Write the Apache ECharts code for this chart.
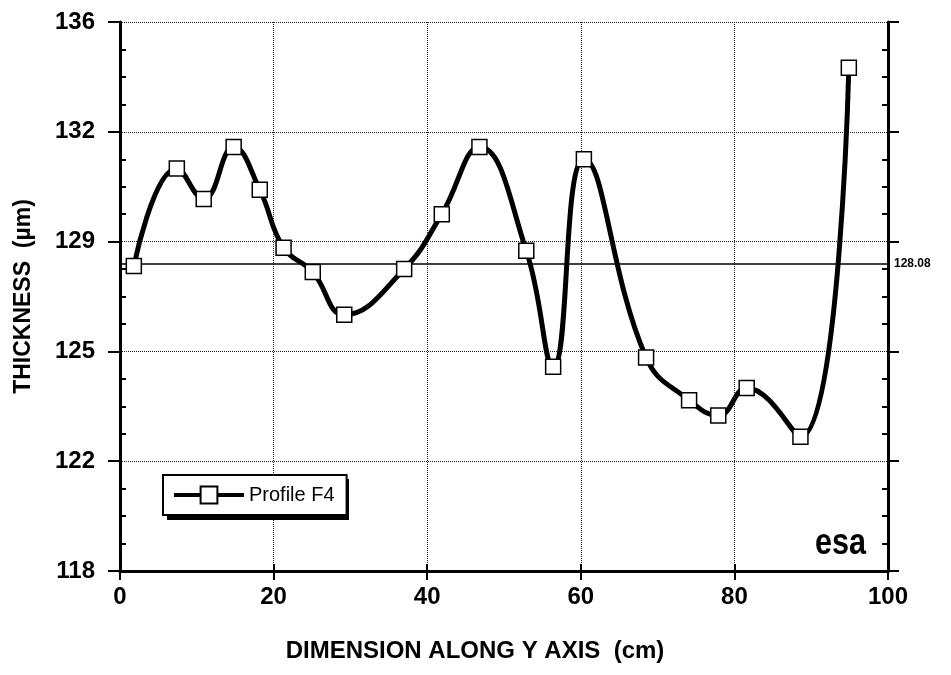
<!DOCTYPE html>
<html>
<head>
<meta charset="utf-8">
<script src="https://cdn.jsdelivr.net/npm/echarts@6/dist/echarts.min.js"></script>
<style>
html,body{margin:0;padding:0;background:#fff;}
#chart{width:951px;height:675px;}
</style>
</head>
<body>
<div id="chart"></div>
<script>
// ---- data ----
const positions = [1.8, 7.4, 10.9, 14.8, 18.2, 21.3, 25.1, 29.2, 37.0, 41.9, 46.8, 52.9, 56.4, 60.4, 68.5, 74.1, 77.9, 81.6, 88.6, 94.9];
const thickness = [128.0, 131.2, 130.2, 131.9, 130.5, 128.6, 127.8, 126.4, 127.9, 129.7, 131.9, 128.5, 124.7, 131.5, 125.0, 123.6, 123.1, 124.0, 122.4, 134.5];
const meanValue = 128.08;
const seriesName = 'Profile F4';
// y axis of the original runs 118..136 with 5 equal steps (labels rounded)
const yMin = 118;
const yMax = 136;
const yStep = 3.6;
const xTicks = [0, 20, 40, 60, 80, 100];

const FONT = '"Liberation Sans", Arial, Helvetica, sans-serif';
const chart = echarts.init(document.getElementById('chart'), null, {renderer: 'canvas'});

const lineData = positions.map((x, i) => [x, thickness[i] - yMin]);

const yCommon = {
  type: 'value', min: 0, max: yMax - yMin, interval: yStep,
};

const option = {
  backgroundColor: '#fff',
  animation: false,
  grid: {left: 120, right: 63, top: 22, bottom: 104, containLabel: false},
  legend: {
    show: true,
    left: 163, top: 475,
    padding: [10, 12, 10, 9],
    itemWidth: 70, itemHeight: 21, itemGap: 5,
    backgroundColor: '#fff',
    borderColor: '#000', borderWidth: 2, borderRadius: 0,
    lineStyle: {color: '#000', width: 4},
    textStyle: {fontFamily: FONT, fontSize: 20, color: '#000'},
    data: [seriesName],
    z: 6
  },
  xAxis: [
    {
      type: 'value', min: xTicks[0], max: xTicks[xTicks.length - 1], interval: 20,
      position: 'bottom',
      axisLine: {show: true, lineStyle: {color: '#000', width: 3}},
      axisTick: {show: true, length: 9, lineStyle: {color: '#000', width: 2}},
      axisLabel: {margin: 14, fontFamily: FONT, fontSize: 24, fontWeight: 'bold', color: '#000'},
      splitLine: {show: true, lineStyle: {type: 'dotted', color: '#222', width: 1}},
      name: 'DIMENSION ALONG Y AXIS  (cm)',
      nameLocation: 'middle', nameGap: 68,
      nameTextStyle: {fontFamily: FONT, fontSize: 24, fontWeight: 'bold', color: '#000', padding: [0, 58, 0, 0]}
    },
    {
      type: 'value', min: xTicks[0], max: xTicks[xTicks.length - 1], interval: 20,
      position: 'top',
      axisLine: {show: true, lineStyle: {color: '#000', width: 3}},
      axisTick: {show: true, length: 7, lineStyle: {color: '#000', width: 2}},
      axisLabel: {show: false},
      splitLine: {show: false}
    }
  ],
  yAxis: [
    Object.assign({}, yCommon, {
      position: 'left',
      axisLine: {show: true, lineStyle: {color: '#000', width: 3}},
      axisTick: {show: true, length: 12, lineStyle: {color: '#000', width: 2}},
      axisLabel: {
        margin: 25, fontFamily: FONT, fontSize: 24, fontWeight: 'bold', color: '#000',
        formatter: v => String(Math.round(v + yMin))
      },
      splitLine: {show: true, lineStyle: {type: 'dotted', color: '#222', width: 1}},
      name: 'THICKNESS  (\u00b5m)',
      nameLocation: 'middle', nameGap: 85, nameRotate: 90,
      nameTextStyle: {fontFamily: FONT, fontSize: 23, fontWeight: 'bold', color: '#000'}
    }),
    Object.assign({}, yCommon, {
      position: 'left',
      axisLine: {show: false},
      axisTick: {show: false, inside: true},
      minorTick: {show: true, splitNumber: 4, length: 6, lineStyle: {color: '#000', width: 2}},
      axisLabel: {show: false},
      splitLine: {show: false}
    }),
    Object.assign({}, yCommon, {
      position: 'right',
      axisLine: {show: true, lineStyle: {color: '#000', width: 3}},
      axisTick: {show: true, length: 11, lineStyle: {color: '#000', width: 2}},
      axisLabel: {show: false},
      splitLine: {show: false}
    }),
    Object.assign({}, yCommon, {
      position: 'right',
      axisLine: {show: false},
      axisTick: {show: false, inside: true},
      minorTick: {show: true, splitNumber: 4, length: 6, lineStyle: {color: '#000', width: 2}},
      axisLabel: {show: false},
      splitLine: {show: false}
    })
  ],
  series: [
    {
      name: seriesName,
      type: 'line',
      xAxisIndex: 0, yAxisIndex: 0,
      data: lineData,
      smooth: 0.45,
      symbol: 'rect',
      symbolSize: 15,
      z: 5,
      lineStyle: {color: '#000', width: 5},
      itemStyle: {color: '#fff', borderColor: '#000', borderWidth: 1.5},
      markLine: {
        silent: true,
        symbol: ['none', 'none'],
        lineStyle: {color: '#000', width: 1.5, type: 'solid'},
        label: {
          show: true, position: 'end', distance: 6,
          fontFamily: FONT, fontSize: 12, fontWeight: 'bold', color: '#000',
          formatter: () => meanValue.toFixed(2)
        },
        data: [{yAxis: meanValue - yMin}],
        z: 3
      }
    }
  ],
  graphic: [
    {
      type: 'rect', z: 5,
      shape: {x: 167, y: 479, width: 182, height: 41},
      style: {fill: '#000'}
    },
    {
      type: 'text', x: 866, y: 562, scaleX: 0.85,
      style: {
        text: 'esa', textAlign: 'right', textVerticalAlign: 'bottom',
        fontFamily: FONT, fontSize: 36, fontWeight: 'bold', fill: '#000'
      }
    }
  ]
};
chart.setOption(option);
</script>
</body>
</html>
